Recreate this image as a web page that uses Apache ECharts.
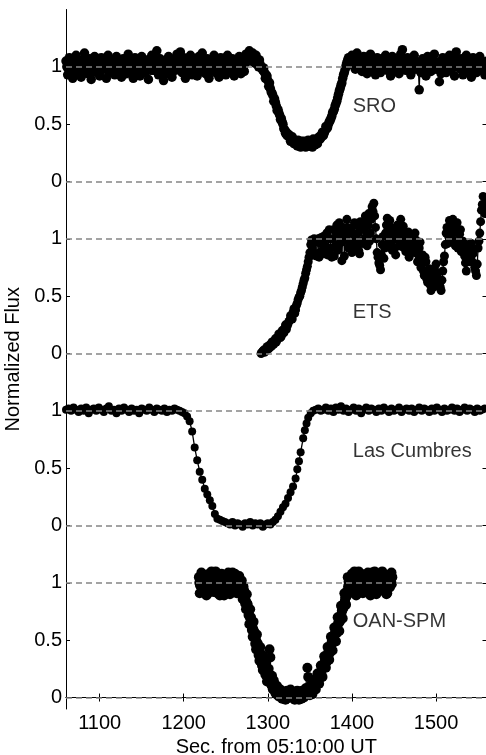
<!DOCTYPE html>
<html>
<head>
<meta charset="utf-8">
<script src="https://cdn.jsdelivr.net/npm/echarts@6/dist/echarts.min.js"></script>
<style>
html,body{margin:0;padding:0;background:#fff;}
#chart{width:486px;height:755px;}
</style>
</head>
<body>
<div id="chart"></div>
<script>
// ---- data: [seconds from 05:10:00 UT, normalized flux] ----
const sro = [
[1060,1.05],[1062,0.93],[1064,1.08],[1066,0.97],[1068,0.90],[1070,1.02],[1072,1.10],[1074,0.95],[1076,1.03],[1078,0.91],
[1080,1.06],[1082,1.12],[1084,0.99],[1086,0.94],[1088,1.07],[1090,0.89],[1092,1.01],[1094,1.09],[1096,0.96],[1098,1.04],
[1100,0.92],[1102,1.08],[1104,0.98],[1106,1.03],[1108,0.90],[1110,1.10],[1112,0.95],[1114,1.06],[1116,1.00],[1118,0.93],
[1120,1.09],[1122,0.97],[1124,1.04],[1126,0.91],[1128,1.07],[1130,1.01],[1132,0.94],[1134,1.11],[1136,0.98],[1138,1.05],
[1140,0.90],[1142,1.08],[1144,0.96],[1146,1.02],[1148,0.92],[1150,1.09],[1152,1.00],[1154,0.95],[1156,1.06],[1158,0.89],
[1160,1.04],[1162,1.10],[1164,0.97],[1166,1.03],[1168,1.14],[1170,0.93],[1172,1.07],[1174,0.99],[1176,0.88],[1178,1.05],
[1180,0.94],[1182,1.09],[1184,1.01],[1186,0.91],[1188,1.06],[1190,0.97],[1192,1.11],[1194,1.03],[1196,1.13],[1198,0.95],
[1200,1.08],[1202,0.90],[1204,1.04],[1206,0.98],[1208,1.10],[1210,0.93],[1212,1.06],[1214,1.00],[1216,0.92],[1218,1.09],
[1220,0.96],[1222,1.12],[1224,1.02],[1226,0.94],[1228,1.07],[1230,0.90],[1232,1.05],[1234,0.99],[1236,1.10],[1238,0.95],
[1240,1.03],[1242,0.91],[1244,1.08],[1246,0.97],[1248,1.04],[1250,0.93],[1252,1.10],[1254,1.01],[1256,0.95],[1258,1.07],
[1260,0.92],[1262,1.05],[1264,0.98],[1266,1.09],[1268,0.94],[1270,1.03],[1272,0.96],[1274,1.11],[1276,1.06],[1278,1.14],
[1280,1.08],[1282,1.12],[1284,1.04],[1286,1.10],[1288,1.02],[1290,1.06],[1292,0.99],
[1294,0.97],[1296,0.95],[1298,0.93],[1300,0.88],[1302,0.86],[1304,0.78],[1306,0.75],[1308,0.72],[1310,0.66],[1312,0.63],
[1314,0.58],[1316,0.55],[1318,0.50],[1320,0.45],[1322,0.43],[1324,0.40],[1326,0.38],[1328,0.37],[1330,0.35],[1332,0.36],
[1334,0.33],[1336,0.36],[1338,0.32],[1340,0.35],[1342,0.31],[1344,0.34],[1346,0.32],[1348,0.36],[1350,0.31],[1352,0.33],
[1354,0.37],[1356,0.32],[1358,0.35],[1360,0.38],[1362,0.37],[1364,0.41],[1366,0.40],[1368,0.44],[1370,0.46],[1372,0.50],
[1374,0.53],[1376,0.57],[1378,0.61],[1380,0.66],[1382,0.70],[1384,0.76],[1386,0.81],[1388,0.86],[1390,0.93],[1392,0.98],
[1394,1.04],
[1396,1.08],[1398,1.03],[1400,1.10],[1402,1.05],[1404,0.98],[1406,1.12],[1408,1.02],[1410,1.07],[1412,0.96],[1414,1.09],
[1416,1.01],[1418,0.94],[1420,1.06],[1422,1.11],[1424,0.99],[1426,1.04],[1428,0.93],[1430,1.08],[1432,1.00],[1434,0.95],
[1436,1.07],[1438,1.03],[1440,1.10],[1442,0.97],[1444,1.05],[1446,0.92],[1448,1.09],[1450,1.02],[1452,0.96],[1454,1.06],
[1456,0.94],[1458,1.11],[1460,1.15],[1462,1.03],[1464,0.97],[1466,1.08],[1468,1.00],[1470,0.93],[1472,1.06],[1474,1.10],
[1476,0.98],[1478,1.04],[1480,0.80],[1482,0.95],[1484,1.07],[1486,1.01],[1488,0.92],[1490,1.09],[1492,1.03],[1494,0.96],
[1496,1.06],[1498,1.11],[1500,0.98],[1502,1.04],[1504,0.87],[1506,0.94],[1508,1.08],[1510,1.01],[1512,0.95],[1514,1.06],
[1516,1.10],[1518,0.97],[1520,1.03],[1522,0.92],[1524,1.13],[1526,1.05],[1528,0.99],[1530,1.07],[1532,0.93],[1534,1.04],
[1536,1.10],[1538,0.96],[1540,1.02],[1542,0.91],[1544,1.08],[1546,1.00],[1548,0.95],[1550,1.06],[1552,1.09],[1554,0.97],
[1556,1.04],[1558,0.93],[1560,1.05]
];
// interleaved SRO exposures (odd seconds)
const sroOdd = [
[1061,1.00],[1063,0.98],[1065,1.03],[1067,1.01],[1069,0.96],[1071,1.04],[1073,0.99],[1075,1.02],[1077,0.97],[1079,1.05],
[1081,1.00],[1083,0.97],[1085,1.03],[1087,0.99],[1089,1.02],[1091,0.95],[1093,1.04],[1095,1.00],[1097,0.98],[1099,1.03],
[1101,0.97],[1103,1.01],[1105,1.05],[1107,0.98],[1109,1.02],[1111,0.96],[1113,1.00],[1115,1.04],[1117,0.99],[1119,1.02],
[1121,0.96],[1123,1.03],[1125,1.00],[1127,0.97],[1129,1.05],[1131,0.99],[1133,1.02],[1135,0.96],[1137,1.01],[1139,1.04],
[1141,0.98],[1143,1.00],[1145,1.03],[1147,0.97],[1149,1.01],[1151,0.95],[1153,1.04],[1155,1.00],[1157,0.98],[1159,1.02],
[1161,0.97],[1163,1.03],[1165,1.00],[1167,1.06],[1169,0.99],[1171,1.02],[1173,0.96],[1175,1.01],[1177,0.94],[1179,1.03],
[1181,0.99],[1183,1.02],[1185,0.97],[1187,1.04],[1189,1.00],[1191,0.98],[1193,1.05],[1195,1.02],[1197,0.99],[1199,1.03],
[1201,0.96],[1203,1.01],[1205,1.04],[1207,0.98],[1209,1.02],[1211,0.97],[1213,1.00],[1215,1.04],[1217,0.98],[1219,1.01],
[1221,0.97],[1223,1.05],[1225,1.00],[1227,0.98],[1229,1.03],[1231,0.96],[1233,1.01],[1235,1.04],[1237,0.99],[1239,1.02],
[1241,0.97],[1243,1.00],[1245,1.03],[1247,0.98],[1249,1.01],[1251,0.96],[1253,1.04],[1255,1.00],[1257,0.98],[1259,1.03],
[1261,0.97],[1263,1.01],[1265,1.04],[1267,0.99],[1269,1.02],[1271,0.98],[1273,1.03],[1275,1.06],[1277,1.09],[1279,1.05],
[1281,1.08],[1283,1.06],[1285,1.03],[1287,1.07],[1289,1.00],[1291,1.02],
[1295,0.99],[1297,0.90],[1299,0.92],[1301,0.83],[1303,0.81],[1305,0.77],[1307,0.70],[1309,0.69],[1311,0.62],[1313,0.60],
[1315,0.54],[1317,0.52],[1319,0.46],[1321,0.42],[1323,0.40],[1325,0.41],[1327,0.35],[1329,0.39],[1331,0.33],[1333,0.35],
[1335,0.31],[1337,0.34],[1339,0.30],[1341,0.33],[1343,0.35],[1345,0.30],[1347,0.34],[1349,0.33],[1351,0.35],[1353,0.30],
[1355,0.34],[1357,0.36],[1359,0.33],[1361,0.39],[1363,0.38],[1365,0.43],[1367,0.42],[1369,0.48],[1371,0.47],[1373,0.52],
[1375,0.55],[1377,0.60],[1379,0.63],[1381,0.68],[1383,0.73],[1385,0.79],[1387,0.84],[1389,0.90],[1391,0.95],[1393,1.01],
[1395,1.06],[1397,1.02],[1399,1.07],[1401,1.03],[1403,1.01],[1405,1.06],[1407,1.00],[1409,1.04],[1411,1.02],[1413,1.05],
[1415,0.99],[1417,1.03],[1419,1.01],[1421,1.06],[1423,1.02],[1425,0.98],[1427,1.04],[1429,1.00],[1431,1.05],[1433,1.02],
[1435,0.99],[1437,1.04],[1439,1.01],[1441,1.06],[1443,1.00],[1445,1.03],[1447,0.98],[1449,1.05],[1451,1.01],[1453,1.03],
[1455,0.99],[1457,1.04],[1459,1.07],[1461,1.02],[1463,1.00],[1465,1.04],[1467,0.98],[1469,1.03],[1471,1.01],[1473,1.05],
[1475,1.00],[1477,1.03],[1479,0.99],[1481,1.02],[1483,1.00],[1485,1.04],[1487,0.98],[1489,1.03],[1491,1.01],[1493,1.05],
[1495,0.99],[1497,1.03],[1499,1.01],[1501,1.04],[1503,0.98],[1505,1.02],[1507,1.00],[1509,1.05],[1511,0.99],[1513,1.03],
[1515,1.01],[1517,1.04],[1519,0.99],[1521,1.02],[1523,1.06],[1525,1.01],[1527,1.03],[1529,0.98],[1531,1.02],[1533,1.00],
[1535,1.04],[1537,0.99],[1539,1.03],[1541,1.00],[1543,1.02],[1545,1.05],[1547,0.98],[1549,1.02],[1551,1.00],[1553,1.04],
[1555,1.01],[1557,0.99],[1559,1.03]
];
const ets = [
[1292,0.00],[1293,0.01],[1294,0.02],[1295,0.03],[1296,0.01],[1297,0.02],[1298,0.04],[1299,0.06],[1300,0.05],[1301,0.04],
[1302,0.07],[1303,0.08],[1304,0.06],[1305,0.10],[1306,0.09],[1307,0.08],[1308,0.11],[1309,0.13],[1310,0.10],[1311,0.12],
[1312,0.14],[1313,0.17],[1314,0.16],[1315,0.14],[1316,0.15],[1317,0.20],[1318,0.19],[1319,0.18],[1320,0.22],[1321,0.25],
[1322,0.21],[1323,0.24],[1324,0.26],[1325,0.28],[1326,0.29],[1327,0.33],[1328,0.31],[1329,0.30],[1330,0.36],[1331,0.39],
[1332,0.35],[1333,0.38],[1334,0.42],[1335,0.44],[1336,0.47],[1337,0.49],[1338,0.50],[1339,0.53],[1340,0.55],[1341,0.58],
[1342,0.61],[1343,0.64],[1344,0.66],[1345,0.70],[1346,0.73],[1347,0.76],[1348,0.80],[1349,0.84],[1350,0.88],[1351,0.95],
[1352,0.99],[1353,0.92],[1354,0.86],[1355,1.00],[1356,0.98],[1357,0.87],[1358,0.85],[1359,0.97],[1360,1.00],[1361,0.84],
[1362,0.88],[1363,1.01],[1364,0.96],[1365,0.90],[1366,1.02],[1367,0.95],[1368,0.87],[1369,1.03],[1370,1.05],[1371,0.86],
[1372,0.90],[1373,1.08],[1374,1.00],[1375,0.92],[1376,0.84],[1377,1.00],[1378,1.08],[1379,0.85],[1380,0.93],[1381,1.06],
[1382,1.12],[1383,0.90],[1384,0.95],[1385,1.14],[1386,1.03],[1387,0.97],[1388,0.81],[1389,1.05],[1390,1.10],[1391,0.85],
[1392,0.99],[1393,1.02],[1394,1.17],[1395,1.10],[1396,0.92],[1397,0.96],[1398,1.06],[1399,1.09],[1400,0.88],[1401,0.93],
[1402,1.04],[1403,1.14],[1404,0.96],[1405,0.99],[1406,1.12],[1407,1.05],[1408,0.90],[1409,0.87],[1410,1.15],[1411,1.09],
[1412,0.98],[1413,0.96],[1414,1.08],[1415,1.15],[1416,1.20],[1417,1.02],[1418,0.94],[1419,1.12],[1420,1.22],[1421,0.98],
[1422,1.05],[1423,1.17],[1424,1.28],[1425,1.24],[1426,1.31],[1427,1.20],[1428,1.10],[1429,1.00],[1430,0.88],[1431,0.84],
[1432,0.79],[1433,0.77],[1434,0.73],[1435,0.86],[1436,0.95],[1437,1.02],[1438,0.83],[1439,0.92],[1440,1.05],[1441,1.12],
[1442,1.18],[1443,1.04],[1444,0.97],[1445,1.16],[1446,1.10],[1447,0.95],[1448,0.90],[1449,1.07],[1450,1.04],[1451,0.92],
[1452,0.86],[1453,1.00],[1454,1.12],[1455,1.08],[1456,0.99],[1457,0.94],[1458,1.17],[1459,1.03],[1460,0.93],[1461,1.11],
[1462,1.06],[1463,0.98],[1464,0.89],[1465,0.93],[1466,1.00],[1467,1.06],[1468,0.84],[1469,0.91],[1470,0.97],[1471,0.99],
[1472,1.03],[1473,0.94],[1474,0.88],[1475,1.05],[1476,0.99],[1477,0.90],[1478,0.80],[1479,0.86],[1480,0.92],[1481,0.97],
[1482,0.75],[1483,0.80],[1484,0.86],[1485,0.72],[1486,0.68],[1487,0.84],[1488,0.80],[1489,0.65],[1490,0.62],[1491,0.70],
[1492,0.74],[1493,0.60],[1494,0.55],[1495,0.64],[1496,0.70],[1497,0.58],[1498,0.63],[1499,0.72],[1500,0.78],[1501,0.70],
[1502,0.66],[1503,0.63],[1504,0.60],[1505,0.58],[1506,0.55],[1507,0.64],[1508,0.72],[1509,0.80],[1510,0.85],[1511,0.95],
[1512,1.05],[1513,1.10],[1514,0.96],[1515,1.02],[1516,1.16],[1517,1.12],[1518,1.08],[1519,1.00],[1520,1.17],[1521,1.06],
[1522,0.98],[1523,0.94],[1524,1.10],[1525,1.14],[1526,0.92],[1527,0.97],[1528,1.04],[1529,1.08],[1530,0.89],[1531,0.93],
[1532,0.98],[1533,0.88],[1534,0.85],[1535,0.79],[1536,0.72],[1537,0.84],[1538,0.90],[1539,0.95],[1540,0.80],[1541,0.87],
[1542,0.96],[1543,0.80],[1544,0.87],[1545,0.91],[1546,0.75],[1547,0.72],[1548,0.68],[1549,0.78],[1550,0.92],[1551,0.98],
[1552,1.05],[1553,1.15],[1554,1.25],[1555,1.30],[1556,1.37],[1557,1.28],[1558,1.22],[1559,1.35],[1560,1.33]
];
const lasCumbres = [
[1060,1.01],[1063,1.02],[1066,1.00],[1069,1.03],[1072,1.01],[1075,0.99],[1078,1.02],[1081,1.00],[1084,1.03],[1087,0.98],
[1090,1.01],[1093,1.02],[1096,1.00],[1099,1.03],[1102,1.01],[1105,0.99],[1108,1.02],[1111,1.04],[1114,1.00],[1117,1.01],
[1120,0.98],[1123,1.02],[1126,1.00],[1129,1.03],[1132,1.01],[1135,0.99],[1138,1.02],[1141,1.00],[1144,1.01],[1147,0.98],
[1150,1.02],[1153,1.01],[1156,1.00],[1159,1.03],[1162,1.01],[1165,0.99],[1168,1.02],[1171,1.01],[1174,1.00],[1177,1.02],
[1180,0.99],[1183,1.01],[1186,1.00],[1189,1.02],[1192,1.01],[1195,1.00],
[1198,0.99],[1201,0.98],[1204,0.95],[1207,0.91],[1210,0.82],[1213,0.68],[1216,0.57],[1219,0.47],[1222,0.40],[1225,0.32],
[1228,0.27],[1231,0.22],[1234,0.17],[1237,0.10],[1240,0.06],[1243,0.05],[1246,0.04],[1249,0.03],
[1252,0.02],[1255,0.01],[1258,0.03],[1261,0.00],[1264,0.02],[1267,0.01],[1270,-0.01],[1273,0.02],[1276,0.01],[1279,0.03],
[1282,0.00],[1285,0.02],[1288,0.01],[1291,0.02],[1294,-0.01],[1297,0.01],[1300,0.02],[1303,0.01],[1306,0.03],
[1309,0.05],[1312,0.08],[1315,0.12],[1318,0.16],[1321,0.19],[1324,0.24],[1327,0.29],[1330,0.34],[1333,0.41],[1335,0.49],
[1337,0.56],[1339,0.64],[1342,0.76],[1344,0.83],[1346,0.89],[1348,0.94],[1351,0.98],[1354,1.00],
[1357,1.01],[1360,1.02],[1363,1.00],[1366,1.01],[1369,1.03],[1372,1.00],[1375,1.02],[1378,0.99],[1381,1.03],[1384,1.01],
[1387,1.04],[1390,1.00],[1393,1.02],[1396,0.99],[1399,1.01],[1402,1.03],[1405,1.00],[1408,1.02],[1411,0.98],[1414,1.01],
[1417,1.03],[1420,1.00],[1423,1.02],[1426,1.01],[1429,0.99],[1432,1.02],[1435,1.00],[1438,1.03],[1441,1.01],[1444,0.99],
[1447,1.02],[1450,1.00],[1453,1.01],[1456,1.03],[1459,0.99],[1462,1.01],[1465,1.02],[1468,1.00],[1471,1.02],[1474,0.99],
[1477,1.01],[1480,1.03],[1483,1.00],[1486,1.02],[1489,1.01],[1492,0.99],[1495,1.02],[1498,1.00],[1501,1.03],[1504,1.01],
[1507,0.99],[1510,1.02],[1513,1.00],[1516,1.01],[1519,1.03],[1522,1.00],[1525,1.02],[1528,0.99],[1531,1.01],[1534,1.03],
[1537,1.00],[1540,1.02],[1543,1.01],[1546,0.99],[1549,1.02],[1552,1.00],[1555,1.01],[1558,1.02]
];
const oanSpm = [
[1218,1.05],[1219,0.91],[1220,0.97],[1221,1.09],[1222,1.02],[1223,0.94],[1224,0.96],[1225,1.07],[1226,1.02],[1227,0.89],
[1228,0.90],[1229,1.04],[1230,1.08],[1231,0.99],[1232,0.94],[1233,1.10],[1234,1.03],[1235,0.92],[1236,0.98],[1237,1.05],
[1238,1.10],[1239,0.95],[1240,0.91],[1241,1.01],[1242,1.06],[1243,0.89],[1244,0.95],[1245,1.08],[1246,1.01],[1247,0.93],
[1248,0.89],[1249,1.03],[1250,1.07],[1251,0.98],[1252,0.97],[1253,1.09],[1254,1.04],[1255,0.90],[1256,0.92],[1257,1.05],
[1258,1.09],[1259,0.95],[1260,0.99],[1261,1.08],[1262,1.03],[1263,0.91],[1264,0.93],[1265,1.02],[1266,1.06],[1267,0.96],
[1268,0.99],[1269,1.02],[1270,0.86],[1271,0.97],[1272,0.93],[1273,0.82],[1274,0.77],[1275,0.90],[1276,0.81],[1277,0.72],
[1278,0.64],[1279,0.77],[1280,0.70],[1281,0.59],[1282,0.53],[1283,0.66],[1284,0.57],[1285,0.47],[1286,0.42],[1287,0.55],
[1288,0.47],[1289,0.37],[1290,0.32],[1291,0.44],[1292,0.38],[1293,0.28],[1294,0.24],[1295,0.36],[1296,0.30],[1297,0.20],
[1298,0.23],[1299,0.14],[1300,0.18],[1301,0.25],[1302,0.42],[1303,0.35],[1304,0.12],[1305,0.19],[1306,0.07],[1307,0.15],
[1308,0.12],[1309,0.04],[1310,0.03],[1311,0.10],[1312,0.08],[1313,0.01],
[1314,0.03],[1315,0.07],[1316,0.06],[1317,-0.01],[1318,0.01],[1319,0.05],[1320,0.04],[1321,-0.02],[1322,-0.01],[1323,0.06],
[1324,0.05],[1325,0.00],[1326,0.02],[1327,0.07],[1328,0.00],[1329,0.03],[1330,0.04],[1331,-0.01],[1332,-0.02],[1333,0.05],
[1334,0.03],[1335,0.06],[1336,0.01],[1337,-0.02],[1338,0.05],[1339,0.02],[1340,-0.01],[1341,0.06],[1342,0.02],[1343,0.00],
[1344,0.04],[1345,0.08],[1346,0.08],[1347,0.26],[1348,0.18],[1349,0.06],
[1350,0.02],[1351,0.11],[1352,0.09],[1353,0.03],[1354,0.06],[1355,0.15],[1356,0.13],[1357,0.07],[1358,0.11],[1359,0.21],
[1360,0.19],[1361,0.12],[1362,0.17],[1363,0.28],[1364,0.25],[1365,0.18],[1366,0.26],[1367,0.36],[1368,0.33],[1369,0.26],
[1370,0.31],[1371,0.44],[1372,0.40],[1373,0.33],[1374,0.39],[1375,0.53],[1376,0.49],[1377,0.41],[1378,0.48],[1379,0.61],
[1380,0.57],[1381,0.49],[1382,0.56],[1383,0.70],[1384,0.66],[1385,0.58],[1386,0.67],[1387,0.80],[1388,0.76],[1389,0.69],
[1390,0.78],[1391,0.91],[1392,0.87],[1393,0.81],[1394,0.92],[1395,1.05],[1396,1.01],[1397,0.91],
[1398,0.94],[1399,1.06],[1400,1.08],[1401,0.93],[1402,0.97],[1403,1.10],[1404,1.04],[1405,0.89],[1406,0.90],[1407,1.02],
[1408,1.10],[1409,0.96],[1410,0.99],[1411,1.08],[1412,1.05],[1413,0.91],[1414,0.93],[1415,1.03],[1416,1.07],[1417,0.98],
[1418,0.96],[1419,1.09],[1420,1.02],[1421,0.92],[1422,0.89],[1423,1.04],[1424,1.09],[1425,0.95],[1426,0.98],[1427,1.10],
[1428,1.04],[1429,0.90],[1430,0.92],[1431,1.01],[1432,1.06],[1433,0.97],[1434,0.95],[1435,1.08],[1436,1.10],[1437,0.93],
[1438,0.97],[1439,1.05],[1440,1.03],[1441,0.90],[1442,0.91],[1443,1.06],[1444,1.07],[1445,0.96],[1446,0.99],[1447,1.09],
[1448,1.05]
];
// interleaved OAN-SPM exposures (half seconds)
const oanSpmHalf = [
[1218.5,1.00],[1219.5,0.98],[1220.5,1.03],[1221.5,1.01],[1222.5,0.97],[1223.5,1.02],[1224.5,1.00],[1225.5,0.96],[1226.5,1.04],[1227.5,0.99],
[1228.5,1.01],[1229.5,0.97],[1230.5,1.03],[1231.5,1.00],[1232.5,0.98],[1233.5,1.02],[1234.5,0.96],[1235.5,1.01],[1236.5,1.04],[1237.5,0.99],
[1238.5,1.00],[1239.5,1.03],[1240.5,0.97],[1241.5,1.01],[1242.5,0.98],[1243.5,1.02],[1244.5,1.00],[1245.5,0.96],[1246.5,1.03],[1247.5,0.99],
[1248.5,1.01],[1249.5,0.97],[1250.5,1.02],[1251.5,1.04],[1252.5,0.98],[1253.5,1.00],[1254.5,0.97],[1255.5,1.03],[1256.5,1.01],[1257.5,0.98],
[1258.5,1.02],[1259.5,1.00],[1260.5,0.96],[1261.5,1.01],[1262.5,0.99],[1263.5,1.03],[1264.5,0.98],[1265.5,1.00],[1266.5,0.97],[1267.5,0.99],
[1268.5,0.95],[1269.5,0.93],[1270.5,0.94],[1271.5,0.89],[1272.5,0.85],[1273.5,0.85],[1274.5,0.83],[1275.5,0.82],[1276.5,0.77],[1277.5,0.75],
[1278.5,0.70],[1279.5,0.69],[1280.5,0.65],[1281.5,0.64],[1282.5,0.60],[1283.5,0.58],[1284.5,0.55],[1285.5,0.52],[1286.5,0.49],[1287.5,0.45],
[1288.5,0.43],[1289.5,0.41],[1290.5,0.39],[1291.5,0.36],[1292.5,0.33],[1293.5,0.30],[1294.5,0.29],[1295.5,0.27],[1296.5,0.26],[1297.5,0.23],
[1298.5,0.20],[1299.5,0.18],[1300.5,0.17],[1301.5,0.15],[1302.5,0.15],[1303.5,0.12],[1304.5,0.11],[1305.5,0.09],[1306.5,0.08],[1307.5,0.07],
[1308.5,0.07],[1309.5,0.06],[1310.5,0.05],[1311.5,0.03],[1312.5,0.04],
[1350.5,0.05],[1351.5,0.06],[1352.5,0.07],[1353.5,0.06],[1354.5,0.10],[1355.5,0.11],[1356.5,0.12],[1357.5,0.16],[1358.5,0.15],[1359.5,0.17],
[1360.5,0.18],[1361.5,0.18],[1362.5,0.22],[1363.5,0.23],[1364.5,0.25],[1365.5,0.28],[1366.5,0.28],[1367.5,0.30],[1368.5,0.32],[1369.5,0.31],
[1370.5,0.36],[1371.5,0.38],[1372.5,0.40],[1373.5,0.44],[1374.5,0.44],[1375.5,0.46],[1376.5,0.48],[1377.5,0.48],[1378.5,0.52],[1379.5,0.55],
[1380.5,0.57],[1381.5,0.61],[1382.5,0.61],[1383.5,0.64],[1384.5,0.66],[1385.5,0.66],[1386.5,0.71],[1387.5,0.73],[1388.5,0.76],[1389.5,0.80],
[1390.5,0.81],[1391.5,0.84],[1392.5,0.87],[1393.5,0.88],[1394.5,0.93],[1395.5,0.97],[1396.5,0.99],
[1397.5,1.02],[1398.5,0.99],[1399.5,1.01],[1400.5,0.97],[1401.5,1.03],[1402.5,1.00],[1403.5,0.98],[1404.5,1.02],[1405.5,0.96],[1406.5,1.01],
[1407.5,1.04],[1408.5,0.99],[1409.5,1.01],[1410.5,0.97],[1411.5,1.03],[1412.5,1.00],[1413.5,0.98],[1414.5,1.02],[1415.5,0.96],[1416.5,1.01],
[1417.5,1.04],[1418.5,0.99],[1419.5,1.00],[1420.5,0.97],[1421.5,1.02],[1422.5,1.00],[1423.5,0.98],[1424.5,1.03],[1425.5,1.01],[1426.5,0.97],
[1427.5,1.00],[1428.5,1.02],[1429.5,0.98],[1430.5,1.04],[1431.5,0.99],[1432.5,1.01],[1433.5,0.96],[1434.5,1.02],[1435.5,1.00],[1436.5,0.98],
[1437.5,1.03],[1438.5,1.01],[1439.5,0.97],[1440.5,1.00],[1441.5,1.02],[1442.5,0.98],[1443.5,1.04],[1444.5,1.00],[1445.5,0.97],[1446.5,1.01],
[1447.5,0.99]
];
const panelNames = ['SRO', 'ETS', 'Las Cumbres', 'OAN-SPM'];
const xTickValues = [1100, 1200, 1300, 1400, 1500];
const yTickValues = [0, 0.5, 1, 1.5, 2, 2.5, 3, 3.5, 4, 4.5, 5, 5.5];
const yTickLabels = ['0', '0.5', '1', '0', '0.5', '1', '0', '0.5', '1', '0', '0.5', '1'];

// ---- layout (panel vertical offsets, marker sizes, label anchors) ----
const panelOffsets = [4.5, 3.0, 1.5, 0];
const markerSizes = [9.5, 9, 8, 10];
const labelAnchors = [[1401, 0.65], [1401, 0.36], [1401, 0.65], [1401, 0.66]];
const byTime = (a, b) => a[0] - b[0];
const dataSets = [
  sro.concat(sroOdd).sort(byTime),
  ets,
  lasCumbres,
  oanSpm.concat(oanSpmHalf).sort(byTime)
];

const FONT = '"Liberation Sans", Arial, Helvetica, sans-serif';
const chart = echarts.init(document.getElementById('chart'), null, {renderer: 'canvas'});

const dataSeries = dataSets.map((d, i) => ({
  type: 'line',
  name: panelNames[i],
  data: d.map(p => [p[0], p[1] + panelOffsets[i]]),
  symbol: 'circle',
  symbolSize: markerSizes[i],
  showSymbol: true,
  showAllSymbol: true,
  itemStyle: {color: '#000', borderWidth: 0},
  lineStyle: {color: '#000', width: 1.3},
  emphasis: {disabled: true},
  silent: true,
  z: 2
}));

const dashVals = [];
panelOffsets.forEach(o => { dashVals.push({yAxis: o}); dashVals.push({yAxis: o + 1}); });

const extraSeries = [
  {
    type: 'line', data: [], z: 10, silent: true,
    markLine: {
      silent: true, symbol: ['none', 'none'], label: {show: false},
      lineStyle: {color: '#858585', width: 1.6, type: [6, 4]},
      emphasis: {disabled: true},
      data: dashVals, animation: false
    }
  },
  {
    type: 'scatter', z: 11, silent: true, symbolSize: 0,
    data: labelAnchors.map((a, i) => ({value: [a[0], a[1] + panelOffsets[i]], name: panelNames[i]})),
    label: {
      show: true, position: 'right', distance: 0,
      formatter: p => p.name,
      color: '#000', fontSize: 20, fontFamily: FONT
    }
  }
];

const axisCommonLine = {show: true, lineStyle: {color: '#000', width: 1}};

chart.setOption({
  animation: false,
  backgroundColor: '#fff',
  grid: {left: 66, top: 9.5, width: 420.5, height: 699.5, containLabel: false, outerBoundsMode: 'none'},
  xAxis: [
    {
      type: 'value', min: 1060, max: 1560, position: 'bottom',
      name: 'Sec. from 05:10:00 UT', nameLocation: 'middle', nameGap: 24,
      nameTextStyle: {color: '#000', fontSize: 20, fontFamily: FONT},
      axisLine: axisCommonLine,
      axisTick: {show: true, inside: true, length: 4, customValues: xTickValues, lineStyle: {color: '#000'}},
      axisLabel: {show: true, customValues: xTickValues, color: '#000', fontSize: 20, fontFamily: FONT, margin: 4,
        formatter: v => String(v)},
      splitLine: {show: false}
    },
    {
      type: 'value', min: 1060, max: 1560, position: 'top',
      axisLine: axisCommonLine,
      axisTick: {show: true, inside: true, length: 4, customValues: xTickValues, lineStyle: {color: '#000'}},
      axisLabel: {show: false},
      splitLine: {show: false}
    }
  ],
  yAxis: [
    {
      type: 'value', min: -0.1, max: 6.0, position: 'left',
      name: 'Normalized Flux', nameLocation: 'middle', nameGap: 38, nameRotate: 90,
      nameTextStyle: {color: '#000', fontSize: 20, fontFamily: FONT},
      axisLine: axisCommonLine,
      axisTick: {show: true, inside: true, length: 4, customValues: yTickValues, lineStyle: {color: '#000'}},
      axisLabel: {
        show: true, customValues: yTickValues, color: '#000', fontSize: 20, fontFamily: FONT, margin: 4,
        formatter: v => {
          const k = yTickValues.findIndex(t => Math.abs(t - v) < 1e-6);
          return k >= 0 ? yTickLabels[k] : '';
        }
      },
      splitLine: {show: false}
    },
    {
      type: 'value', min: -0.1, max: 6.0, position: 'right',
      axisLine: axisCommonLine,
      axisTick: {show: true, inside: true, length: 4, customValues: yTickValues, lineStyle: {color: '#000'}},
      axisLabel: {show: false},
      splitLine: {show: false}
    }
  ],
  series: dataSeries.concat(extraSeries)
});
</script>
</body>
</html>
